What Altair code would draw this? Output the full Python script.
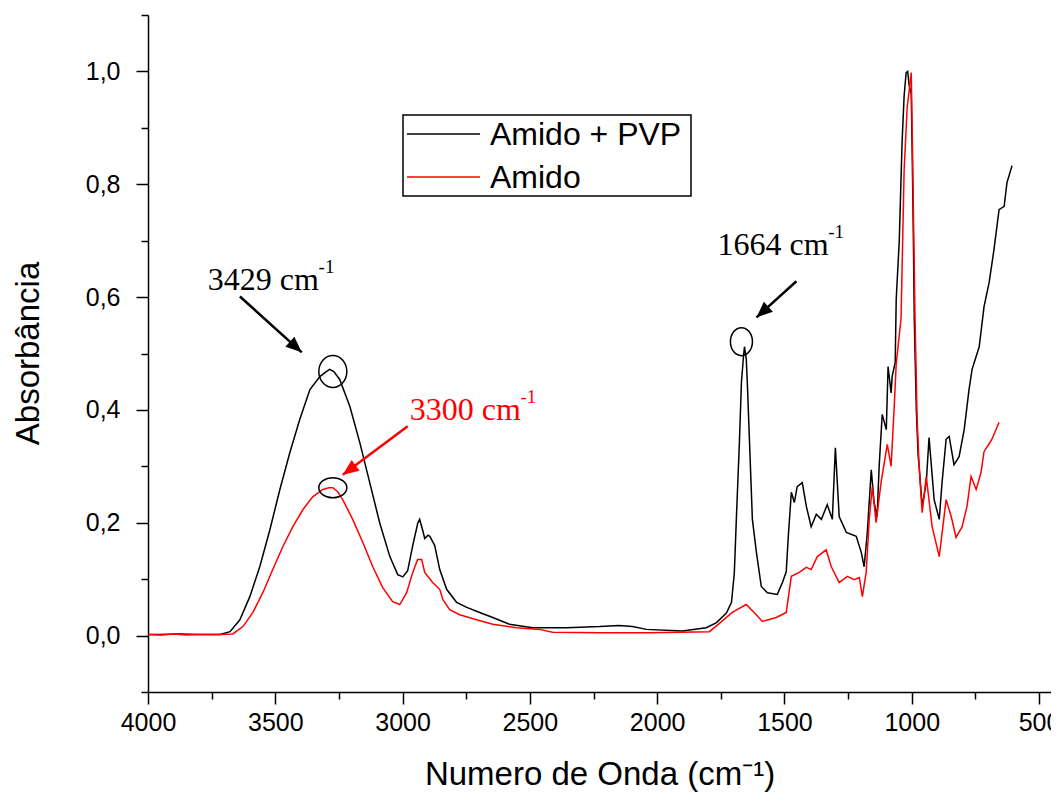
import altair as alt
import pandas as pd

SERIES = ["Amido + PVP", "Amido"]
COLORS = ["#000000", "#ff0000"]

# Amido + PVP (black)
WN_PVP = [4000, 3953, 3874, 3796, 3717, 3678, 3639, 3600, 3561, 3521, 3482, 3443, 3404, 3364, 3325,
          3300, 3286, 3270, 3247, 3207, 3168, 3129, 3090, 3050, 3019, 2999, 2980, 2960, 2940, 2933,
          2920, 2913, 2900, 2893, 2874, 2854, 2827, 2788, 2748, 2697, 2646, 2580, 2489, 2356, 2226,
          2150, 2097, 2042, 1901, 1807, 1767, 1728, 1708, 1697, 1689, 1677, 1669, 1660, 1657, 1650,
          1646, 1638, 1626, 1610, 1591, 1567, 1528, 1508, 1493, 1485, 1473, 1461, 1450, 1430, 1414,
          1395, 1375, 1355, 1332, 1312, 1300, 1285, 1257, 1218, 1198, 1187, 1175, 1159, 1148, 1136,
          1128, 1116, 1100, 1093, 1081, 1077, 1065, 1061, 1049, 1038, 1030, 1022, 1016, 1010, 1002,
          998, 994, 990, 982, 975, 971, 959, 943, 932, 912, 892, 881, 865, 853, 834,
          814, 794, 775, 763, 735, 716, 696, 677, 657, 637, 626, 606]
ABS_PVP = [0.002, 0.002, 0.003, 0.002, 0.002, 0.007, 0.028, 0.069, 0.122, 0.188, 0.259, 0.324, 0.383, 0.436, 0.459,
           0.468, 0.472, 0.468, 0.454, 0.406, 0.342, 0.271, 0.200, 0.140, 0.108, 0.104, 0.115, 0.160, 0.200, 0.206,
           0.185, 0.172, 0.178, 0.176, 0.160, 0.117, 0.082, 0.059, 0.050, 0.041, 0.032, 0.020, 0.014, 0.014, 0.016,
           0.018, 0.016, 0.011, 0.008, 0.014, 0.023, 0.040, 0.059, 0.110, 0.206, 0.342, 0.449, 0.500, 0.512, 0.490,
           0.450, 0.353, 0.206, 0.147, 0.087, 0.076, 0.073, 0.094, 0.113, 0.175, 0.254, 0.236, 0.264, 0.271, 0.229,
           0.193, 0.215, 0.206, 0.232, 0.206, 0.333, 0.211, 0.183, 0.176, 0.147, 0.122, 0.180, 0.294, 0.236, 0.211,
           0.300, 0.392, 0.365, 0.477, 0.430, 0.459, 0.484, 0.596, 0.700, 0.874, 0.956, 0.998, 1.000, 0.975, 0.960,
           0.850, 0.720, 0.560, 0.400, 0.320, 0.300, 0.229, 0.271, 0.351, 0.241, 0.206, 0.271, 0.348, 0.353, 0.303,
           0.317, 0.365, 0.436, 0.472, 0.512, 0.583, 0.626, 0.684, 0.755, 0.761, 0.803, 0.833]

# Amido (red)
WN_AMIDO = [4000, 3950, 3900, 3850, 3796, 3720, 3667, 3627, 3588, 3549, 3510, 3470, 3431, 3392, 3353,
            3313, 3290, 3274, 3255, 3235, 3196, 3156, 3117, 3078, 3039, 3011, 2984, 2960, 2941, 2925,
            2913, 2882, 2854, 2842, 2815, 2776, 2709, 2646, 2552, 2462, 2411, 2226, 2030, 1795, 1760,
            1705, 1650, 1619, 1587, 1532, 1493, 1473, 1442, 1414, 1395, 1371, 1336, 1316, 1285, 1253,
            1226, 1206, 1194, 1179, 1167, 1155, 1140, 1120, 1096, 1081, 1069, 1061, 1042, 1030, 1018,
            1002, 998, 987, 979, 971, 959, 943, 920, 892, 865, 845, 826, 802, 783, 767,
            747, 728, 716, 696, 685, 657]
ABS_AMIDO = [0.002, 0.001, 0.003, 0.001, 0.002, 0.002, 0.003, 0.016, 0.041, 0.076, 0.117, 0.158, 0.193, 0.223, 0.246,
             0.259, 0.262, 0.262, 0.255, 0.241, 0.206, 0.165, 0.122, 0.085, 0.060, 0.055, 0.076, 0.112, 0.135, 0.135,
             0.112, 0.094, 0.082, 0.064, 0.046, 0.037, 0.028, 0.020, 0.014, 0.011, 0.006, 0.005, 0.005, 0.007, 0.020,
             0.041, 0.055, 0.041, 0.025, 0.032, 0.041, 0.105, 0.112, 0.121, 0.117, 0.140, 0.152, 0.122, 0.094, 0.105,
             0.099, 0.103, 0.069, 0.112, 0.206, 0.264, 0.200, 0.273, 0.339, 0.300, 0.404, 0.482, 0.562, 0.824, 0.936,
             0.998, 0.890, 0.562, 0.385, 0.300, 0.218, 0.282, 0.193, 0.140, 0.241, 0.211, 0.174, 0.193, 0.229, 0.282,
             0.259, 0.289, 0.326, 0.340, 0.348, 0.378]

X_MAJOR = [4000, 3500, 3000, 2500, 2000, 1500, 1000, 500]
X_MINOR = [3750, 3250, 2750, 2250, 1750, 1250, 750]
Y_MAJOR = [0.0, 0.2, 0.4, 0.6, 0.8, 1.0]
Y_MINOR = [-0.1, 0.1, 0.3, 0.5, 0.7, 0.9, 1.1]

# Annotations (in data units)
ANN_TEXT = ["3429 cm", "3300 cm", "1664 cm"]
ANN_SUP = ["-1", "-1", "-1"]
ANN_COLOR = ["#000000", "#ff0000", "#000000"]
ANN_X = [3765, 2972, 1763]
ANN_Y = [0.613, 0.383, 0.674]
SUP_X = [3330, 2537, 1328]
SUP_Y = [0.643, 0.413, 0.704]
ARROW_X1 = [3639, 2980, 1453]
ARROW_Y1 = [0.601, 0.371, 0.628]
ARROW_X2 = [3396, 3235, 1610]
ARROW_Y2 = [0.502, 0.285, 0.564]
ARROW_ANGLE = [42, 143.6, 138]
CIRCLE_X = [3274, 3274, 1669]
CIRCLE_Y = [0.468, 0.262, 0.521]
CIRCLE_SHAPE = [
    "M -0.875 0 A 0.875 1 0 1 0 0.875 0 A 0.875 1 0 1 0 -0.875 0 Z",
    "M -0.875 0 A 0.875 0.625 0 1 0 0.875 0 A 0.875 0.625 0 1 0 -0.875 0 Z",
    "M -0.6875 0 A 0.6875 0.875 0 1 0 0.6875 0 A 0.6875 0.875 0 1 0 -0.6875 0 Z",
]

FONT = "Liberation Sans"
SERIF = "Liberation Serif"

pvp = pd.DataFrame({"wn": WN_PVP, "absorb": ABS_PVP, "serie": SERIES[0]})
amido = pd.DataFrame({"wn": WN_AMIDO, "absorb": ABS_AMIDO, "serie": SERIES[1]})

xscale = alt.Scale(domain=[4000, 453], nice=False, zero=False)
yscale = alt.Scale(domain=[-0.1, 1.1], nice=False, zero=False)

common = dict(domainColor="black", tickColor="black", grid=False, labelColor="black",
              labelFont=FONT, titleFont=FONT, titleColor="black", titleFontWeight="normal",
              labelFlush=False, labelOverlap=False, labelBound=False)

x_major = alt.Axis(orient="bottom", values=X_MAJOR, format="d", tickSize=12, tickWidth=1.5,
                   domainWidth=1.5, labelFontSize=25, labelPadding=6,
                   title="Numero de Onda (cm⁻¹)", titleFontSize=33, titleY=92,
                   titleBaseline="alphabetic", **common)
x_minor = alt.Axis(orient="bottom", values=X_MINOR, labels=False, domain=False, tickSize=7,
                   tickWidth=1.5, tickColor="black", title="", grid=False)
y_major = alt.Axis(orient="left", values=Y_MAJOR,
                   labelExpr="replace(format(datum.value, '.1f'), '.', ',')",
                   tickSize=12, tickWidth=1.5, domainWidth=1.5, labelFontSize=25, labelPadding=16,
                   title="Absorbância", titleFontSize=33, titleAngle=-90, titleX=-110, titleY=338,
                   titleAlign="center", titleBaseline="alphabetic", **common)
y_minor = alt.Axis(orient="left", values=Y_MINOR, labels=False, domain=False, tickSize=7,
                   tickWidth=1.5, tickColor="black", title="", grid=False)

line_pvp = alt.Chart(pvp).mark_line(color=COLORS[0], strokeWidth=1.5).encode(
    x=alt.X("wn:Q", scale=xscale, axis=x_major),
    y=alt.Y("absorb:Q", scale=yscale, axis=y_major),
)
line_amido = alt.Chart(amido).mark_line(color=COLORS[1], strokeWidth=1.5).encode(
    x=alt.X("wn:Q", scale=xscale, axis=x_minor),
    y=alt.Y("absorb:Q", scale=yscale, axis=y_minor),
)

ann = pd.DataFrame({
    "text": ANN_TEXT, "sup": ANN_SUP, "color": ANN_COLOR,
    "tx": ANN_X, "ty": ANN_Y, "sx": SUP_X, "sy": SUP_Y,
    "ax1": ARROW_X1, "ay1": ARROW_Y1, "ax2": ARROW_X2, "ay2": ARROW_Y2, "angle": ARROW_ANGLE,
})

ax_none = dict(axis=None)
texts = alt.Chart(ann).mark_text(font=SERIF, fontSize=32, align="left", baseline="alphabetic").encode(
    x=alt.X("tx:Q", scale=xscale, **ax_none),
    y=alt.Y("ty:Q", scale=yscale, **ax_none),
    text="text:N",
    color=alt.Color("color:N", scale=None),
)
sups = alt.Chart(ann).mark_text(font=SERIF, fontSize=19, align="left", baseline="alphabetic").encode(
    x=alt.X("sx:Q", scale=xscale, **ax_none),
    y=alt.Y("sy:Q", scale=yscale, **ax_none),
    text="sup:N",
    color=alt.Color("color:N", scale=None),
)
shafts = alt.Chart(ann).mark_rule(strokeWidth=2.5).encode(
    x=alt.X("ax1:Q", scale=xscale, **ax_none),
    y=alt.Y("ay1:Q", scale=yscale, **ax_none),
    x2="ax2:Q", y2="ay2:Q",
    color=alt.Color("color:N", scale=None),
)
heads = alt.Chart(ann).mark_point(
    shape="M 0 0 L -1 -0.42 L -1 0.42 Z", filled=True, size=1024, opacity=1
).encode(
    x=alt.X("ax2:Q", scale=xscale, **ax_none),
    y=alt.Y("ay2:Q", scale=yscale, **ax_none),
    angle=alt.Angle("angle:Q", scale=None),
    color=alt.Color("color:N", scale=None),
)

circles = []
for cx, cy, shp in zip(CIRCLE_X, CIRCLE_Y, CIRCLE_SHAPE):
    cdf = pd.DataFrame({"cx": [cx], "cy": [cy]})
    circles.append(
        alt.Chart(cdf).mark_point(shape=shp, size=1024, filled=False, color="black",
                                  strokeWidth=1.5, opacity=1).encode(
            x=alt.X("cx:Q", scale=xscale, **ax_none),
            y=alt.Y("cy:Q", scale=yscale, **ax_none),
        )
    )

# Legend (drawn manually, positioned in pixels inside the plot area)
one = pd.DataFrame({"k": [0]})
leg_box = alt.Chart(one).mark_rect(fill="white", stroke="black", strokeWidth=1.5).encode(
    x=alt.value(255), x2=alt.value(543), y=alt.value(100), y2=alt.value(181))
leg_items = []
for i, (name, col) in enumerate(zip(SERIES, COLORS)):
    yy = 119 + 43 * i
    ldf = pd.DataFrame({"name": [name]})
    leg_items.append(alt.Chart(ldf).mark_rule(color=col, strokeWidth=1.5).encode(
        x=alt.value(259), x2=alt.value(332), y=alt.value(yy)))
    leg_items.append(alt.Chart(ldf).mark_text(font=FONT, fontSize=32, align="left",
                                              baseline="middle", color="black").encode(
        x=alt.value(342), y=alt.value(yy + 1), text="name:N"))

chart = alt.layer(
    line_pvp, line_amido, *circles, shafts, heads, texts, sups, leg_box, *leg_items
).resolve_axis(
    x="independent", y="independent"
).properties(
    width=903, height=677,
    autosize=alt.AutoSizeParams(type="none"),
    padding={"left": 140, "top": 7, "right": 0, "bottom": 100},
    background="white",
).configure_view(stroke=None)

chart.save("out.html", embed_options={"renderer": "svg", "actions": False})
